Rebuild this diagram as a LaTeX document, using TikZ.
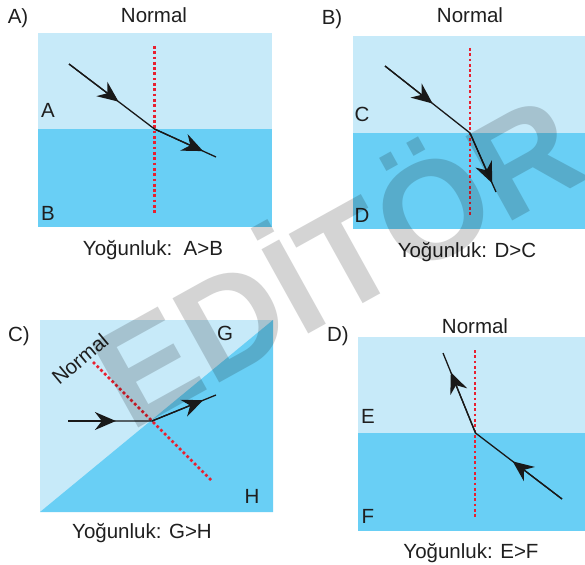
\documentclass[tikz,border=0pt]{standalone}
\usepackage{fontspec}
\setmainfont{Liberation Sans}
\usetikzlibrary{arrows.meta,calc}
\definecolor{lightw}{RGB}{199,234,249}
\definecolor{deepw}{RGB}{105,207,245}
\definecolor{normred}{RGB}{232,32,48}
\begin{document}
\begin{tikzpicture}[x=1pt,y=-1pt,
  lab/.style={font=\fontsize{20.5}{24}\selectfont, inner sep=0pt, anchor=base, text=black!88},
  ray/.style={line width=1.3pt, black!90, line join=round},
  tip/.style={-{Stealth[length=21pt,width=18pt,inset=7pt]}},
  normline/.style={normred, line width=2.7pt, dash pattern=on 2.7pt off 2.6pt},
]
\useasboundingbox (0,0) rectangle (585,564);
\fill[white] (0,0) rectangle (585,564);

% ---------- Panel A ----------
\fill[lightw] (38,33) rectangle (272,129);
\fill[deepw] (38,129) rectangle (272,227);
\coordinate (nA1) at (154.5,46); \coordinate (nA2) at (154.5,213);
\draw[normline] (nA1) -- (nA2);
\coordinate (a0) at (69,64); \coordinate (a1) at (154.5,129); \coordinate (a2) at (216,157);
\draw[ray] (a0) -- (a1) -- (a2);
\draw[ray,tip] (a0) -- ($(a0)!0.58!(a1)$);
\draw[ray,tip] (a1) -- ($(a1)!0.79!(a2)$);
\node[lab] (pA) at (18,24) {A)};
\node[lab] (normA) at (154,23) {Normal};
\node[lab] (labA) at (48,118) {A};
\node[lab] (labB) at (48,220) {B};
\node[lab] (densA) at (153,255) {Yoğunluk:\ \ A>B};

% ---------- Panel B ----------
\fill[lightw] (353,36) rectangle (585,133);
\fill[deepw] (353,133) rectangle (585,229);
\coordinate (nB1) at (470,48); \coordinate (nB2) at (470,216);
\draw[normline] (nB1) -- (nB2);
\coordinate (b0) at (385,66); \coordinate (b1) at (470,133); \coordinate (b2) at (496,192);
\draw[ray] (b0) -- (b1) -- (b2);
\draw[ray,tip] (b0) -- ($(b0)!0.56!(b1)$);
\draw[ray,tip] (b1) -- ($(b1)!0.85!(b2)$);
\node[lab] (pB) at (332,25) {B)};
\node[lab] (normB) at (470,23) {Normal};
\node[lab] (labC) at (362,122) {C};
\node[lab] (labD) at (362,222) {D};
\node[lab] (densB) at (467,257) {Yoğunluk: D>C};

% ---------- Panel C ----------
\fill[lightw] (40,320) rectangle (273,512);
\fill[deepw] (40,512) -- (273,320) -- (273,512) -- cycle;
\coordinate (nC1) at (93,362); \coordinate (nC2) at (211,480);
\draw[normline] (nC1) -- (nC2);
\coordinate (c0) at (68,421); \coordinate (c1) at (152,421); \coordinate (c2) at (216,395);
\draw[ray] (c0) -- (c1) -- (c2);
\draw[ray,tip] (c0) -- ($(c0)!0.57!(c1)$);
\draw[ray,tip] (c1) -- ($(c1)!0.8!(c2)$);
\node[lab] (pC) at (19,341) {C)};
\node[lab, rotate=40, anchor=center] (normC) at (80,359) {Normal};
\node[lab] (labG) at (225,340) {G};
\node[lab] (labH) at (252,503) {H};
\node[lab] (densC) at (142,538) {Yoğunluk: G>H};

% ---------- Panel D ----------
\fill[lightw] (358,337) rectangle (585,433);
\fill[deepw] (358,433) rectangle (585,531);
\coordinate (nD1) at (475,350); \coordinate (nD2) at (475,517);
\draw[normline] (nD1) -- (nD2);
\coordinate (d0) at (562,499); \coordinate (d1) at (475.5,433); \coordinate (d2) at (443,353);
\draw[ray] (d0) -- (d1) -- (d2);
\draw[ray,tip] (d0) -- ($(d0)!0.57!(d1)$);
\draw[ray,tip] (d1) -- ($(d1)!0.76!(d2)$);
\node[lab] (pD) at (338,341) {D)};
\node[lab] (normD) at (475,333) {Normal};
\node[lab] (labE) at (368,423) {E};
\node[lab] (labF) at (368,523) {F};
\node[lab] (densD) at (471,558) {Yoğunluk: E>F};

% ---------- watermark ----------
\begin{scope}
\clip (0,0) rectangle (585,564);
\node[font=\fontsize{140}{140}\selectfont\bfseries, text=black!17, rotate=29,
      anchor=base west, inner sep=0pt, blend mode=multiply] (wm) at (130,433) {EDİTÖR};
\end{scope}
\end{tikzpicture}
\end{document}
